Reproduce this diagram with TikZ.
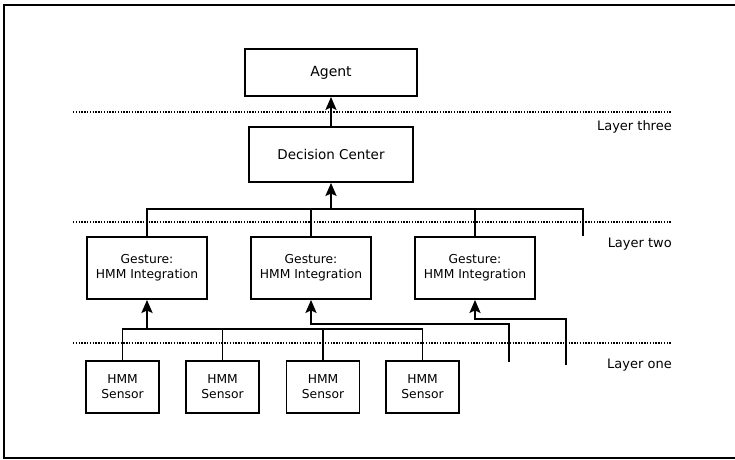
\documentclass[tikz,border=0pt]{standalone}
\usepackage{fontspec}
\setmainfont{DejaVu Sans}
\usetikzlibrary{arrows.meta}
\begin{document}
\begin{tikzpicture}[x=1pt,y=-1pt,
  box/.style={draw,line width=1.8pt,inner sep=0pt,align=center,font=\fontsize{12.3}{15}\selectfont},
  conn/.style={line width=1.8pt},
  thickconn/.style={line width=2.6pt},
  arr/.style={-{Stealth[length=13pt,width=11pt,inset=2.5pt]}},
  dots/.style={line width=1.4pt,dash pattern=on 1.4pt off 1.4pt},
  lab/.style={anchor=east,inner sep=0pt,font=\fontsize{13}{15}\selectfont}]
\useasboundingbox (0,0) rectangle (735,459);
\coordinate (fr1) at (735,5); \coordinate (fr2) at (4,5);
\coordinate (fr3) at (4,458); \coordinate (fr4) at (735,458);
\draw[line width=2pt] (fr1) -- (fr2) -- (fr3) -- (fr4);
% dotted layer lines
\coordinate (d1a) at (73,112); \coordinate (d1b) at (672,112);
\coordinate (d2a) at (73,222); \coordinate (d2b) at (672,222);
\coordinate (d3a) at (73,343); \coordinate (d3b) at (672,343);
\draw[dots] (d1a) -- (d1b);
\draw[dots] (d2a) -- (d2b);
\draw[dots] (d3a) -- (d3b);
% nodes
\node[box,minimum width=172pt,minimum height=47pt,font=\fontsize{14}{16}\selectfont] (agent) at (331,72.5) {Agent};
\node[box,minimum width=164pt,minimum height=55pt,font=\fontsize{13.5}{16}\selectfont] (dc) at (331,154.5) {Decision Center};
\node[box,minimum width=120pt,minimum height=62pt] (g1) at (147,268) {Gesture:\\HMM Integration};
\node[box,minimum width=120pt,minimum height=62pt] (g2) at (311,268) {Gesture:\\HMM Integration};
\node[box,minimum width=120pt,minimum height=62pt] (g3) at (475,268) {Gesture:\\HMM Integration};
\node[box,minimum width=73pt,minimum height=52pt] (s1) at (122.5,387) {HMM\\Sensor};
\node[box,minimum width=73pt,minimum height=52pt] (s2) at (222.5,387) {HMM\\Sensor};
\node[box,minimum width=73pt,minimum height=52pt] (s3) at (323,387) {HMM\\Sensor};
\node[box,minimum width=73pt,minimum height=52pt] (s4) at (422.5,387) {HMM\\Sensor};
% labels
\node[lab] (l3) at (672,127) {Layer three};
\node[lab] (l2) at (672,244) {Layer two};
\node[lab] (l1) at (672,365) {Layer one};
% connectors
\draw[conn,arr] (dc.north) -- (agent.south);
\coordinate (b2) at (583,209);
\coordinate (b2end) at (583,236);
\draw[conn] (g1.north) |- (b2) -- (b2end);
\draw[conn] (g2.north) -- (g2.north |- b2);
\draw[conn] (g3.north) -- (g3.north |- b2);
\draw[thickconn,arr] (dc.south |- b2) -- (dc.south);
\coordinate (b1) at (422.5,329);
\draw[conn] (s1.north) |- (b1) -- (s4.north);
\draw[conn] (s2.north) -- (s2.north |- b1);
\draw[conn] (s3.north) -- (s3.north |- b1);
\draw[thickconn,arr] (g1.south |- b1) -- (g1.south);
\coordinate (c2) at (509,362); \coordinate (c2t) at (509,324);
\draw[conn,arr] (c2) -- (c2t) -| (g2.south);
\coordinate (c3) at (566,365); \coordinate (c3t) at (566,319);
\draw[conn,arr] (c3) -- (c3t) -| (g3.south);
\end{tikzpicture}
\end{document}
